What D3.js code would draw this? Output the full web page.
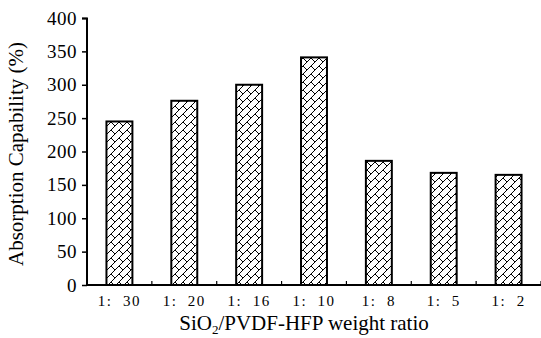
<!DOCTYPE html>
<html>
<head>
  <meta charset="UTF-8">
  <title>Absorption Capability</title>
  <script src="https://d3js.org/d3.v7.min.js"></script>
  <style>
    body { margin: 0; background: #fff; }
  </style>
</head>
<body>
  <svg width="541" height="338"></svg>

  <script>
    // Data
    const ratios = ["1:  30", "1:  20", "1:  16", "1:  10", "1:  8", "1:  5", "1:  2"];
    const absorption = [245, 276, 300, 341, 186, 168, 165];
    const yTicks = [0, 50, 100, 150, 200, 250, 300, 350, 400];

    const font = "'Liberation Serif', 'Times New Roman', serif";

    // Plot area
    const margin = { top: 18, right: 0, bottom: 53, left: 87 };
    const width = 541 - margin.left - margin.right;
    const height = 338 - margin.top - margin.bottom;

    const root = d3.select("svg");

    // hatch pattern for the bars
    const pat = root.append("defs").append("pattern")
      .attr("id", "hatch")
      .attr("patternUnits", "userSpaceOnUse")
      .attr("width", 8)
      .attr("height", 8);
    pat.append("path")
      .attr("d", "M-1,9 L9,-1 M0,0 L4,4")
      .attr("stroke", "#000")
      .attr("stroke-width", 1)
      .attr("fill", "none");

    const svg = root.append("g")
      .attr("transform", `translate(${margin.left}, ${margin.top})`);

    const x = d3.scaleBand()
      .domain(ratios)
      .range([0, width])
      .paddingInner(0.6)
      .paddingOuter(0.3);
    const y = d3.scaleLinear()
      .domain([0, 400])
      .range([height, 0]);

    // bars
    svg.selectAll("rect.bar")
      .data(absorption)
      .join("rect")
      .attr("class", "bar")
      .attr("x", (d, i) => x(ratios[i]))
      .attr("y", d => y(d))
      .attr("width", x.bandwidth())
      .attr("height", d => height - y(d))
      .attr("fill", "url(#hatch)")
      .attr("stroke", "#000")
      .attr("stroke-width", 2);

    // y axis
    const yAxis = svg.append("g")
      .call(d3.axisLeft(y).tickValues(yTicks).tickSize(5).tickPadding(5));
    yAxis.select(".domain").attr("stroke-width", 2).attr("d", `M-5,0.5H0V${height}`);
    yAxis.selectAll(".tick line").attr("stroke-width", 1.5);
    yAxis.selectAll(".tick text")
      .style("font-family", font)
      .style("font-size", "19px")
      .style("letter-spacing", "0.5px");

    // x axis: ticks sit between categories
    const step = x.step();
    const xAxis = svg.append("g")
      .attr("transform", `translate(0, ${height})`);
    xAxis.append("line")
      .attr("x1", 0).attr("x2", width)
      .attr("stroke", "#000").attr("stroke-width", 2);
    xAxis.selectAll("line.sep")
      .data(ratios)
      .join("line")
      .attr("class", "sep")
      .attr("x1", (d, i) => (i + 1) * step)
      .attr("x2", (d, i) => (i + 1) * step)
      .attr("y1", 0).attr("y2", -4)
      .attr("stroke", "#000").attr("stroke-width", 1.2);
    xAxis.selectAll("text.lab")
      .data(ratios)
      .join("text")
      .attr("class", "lab")
      .attr("x", d => x(d) + x.bandwidth() / 2)
      .attr("y", 21)
      .attr("text-anchor", "middle")
      .style("font-family", font)
      .style("font-size", "15px")
      .style("letter-spacing", "1.5px")
      .style("white-space", "pre")
      .text(d => d);

    // axis titles
    const xt = svg.append("text")
      .attr("x", 217)
      .attr("y", 312)
      .attr("text-anchor", "middle")
      .style("font-family", font)
      .style("font-size", "21px");
    xt.append("tspan").text("SiO");
    xt.append("tspan").attr("dy", 4).style("font-size", "13px").text("2");
    xt.append("tspan").attr("dy", -4).text("/PVDF-HFP weight ratio");

    svg.append("text")
      .attr("transform", "rotate(-90)")
      .attr("x", -136)
      .attr("y", -64)
      .attr("text-anchor", "middle")
      .style("font-family", font)
      .style("font-size", "21px")
      .text("Absorption Capability (%)");
  </script>
</body>
</html>
